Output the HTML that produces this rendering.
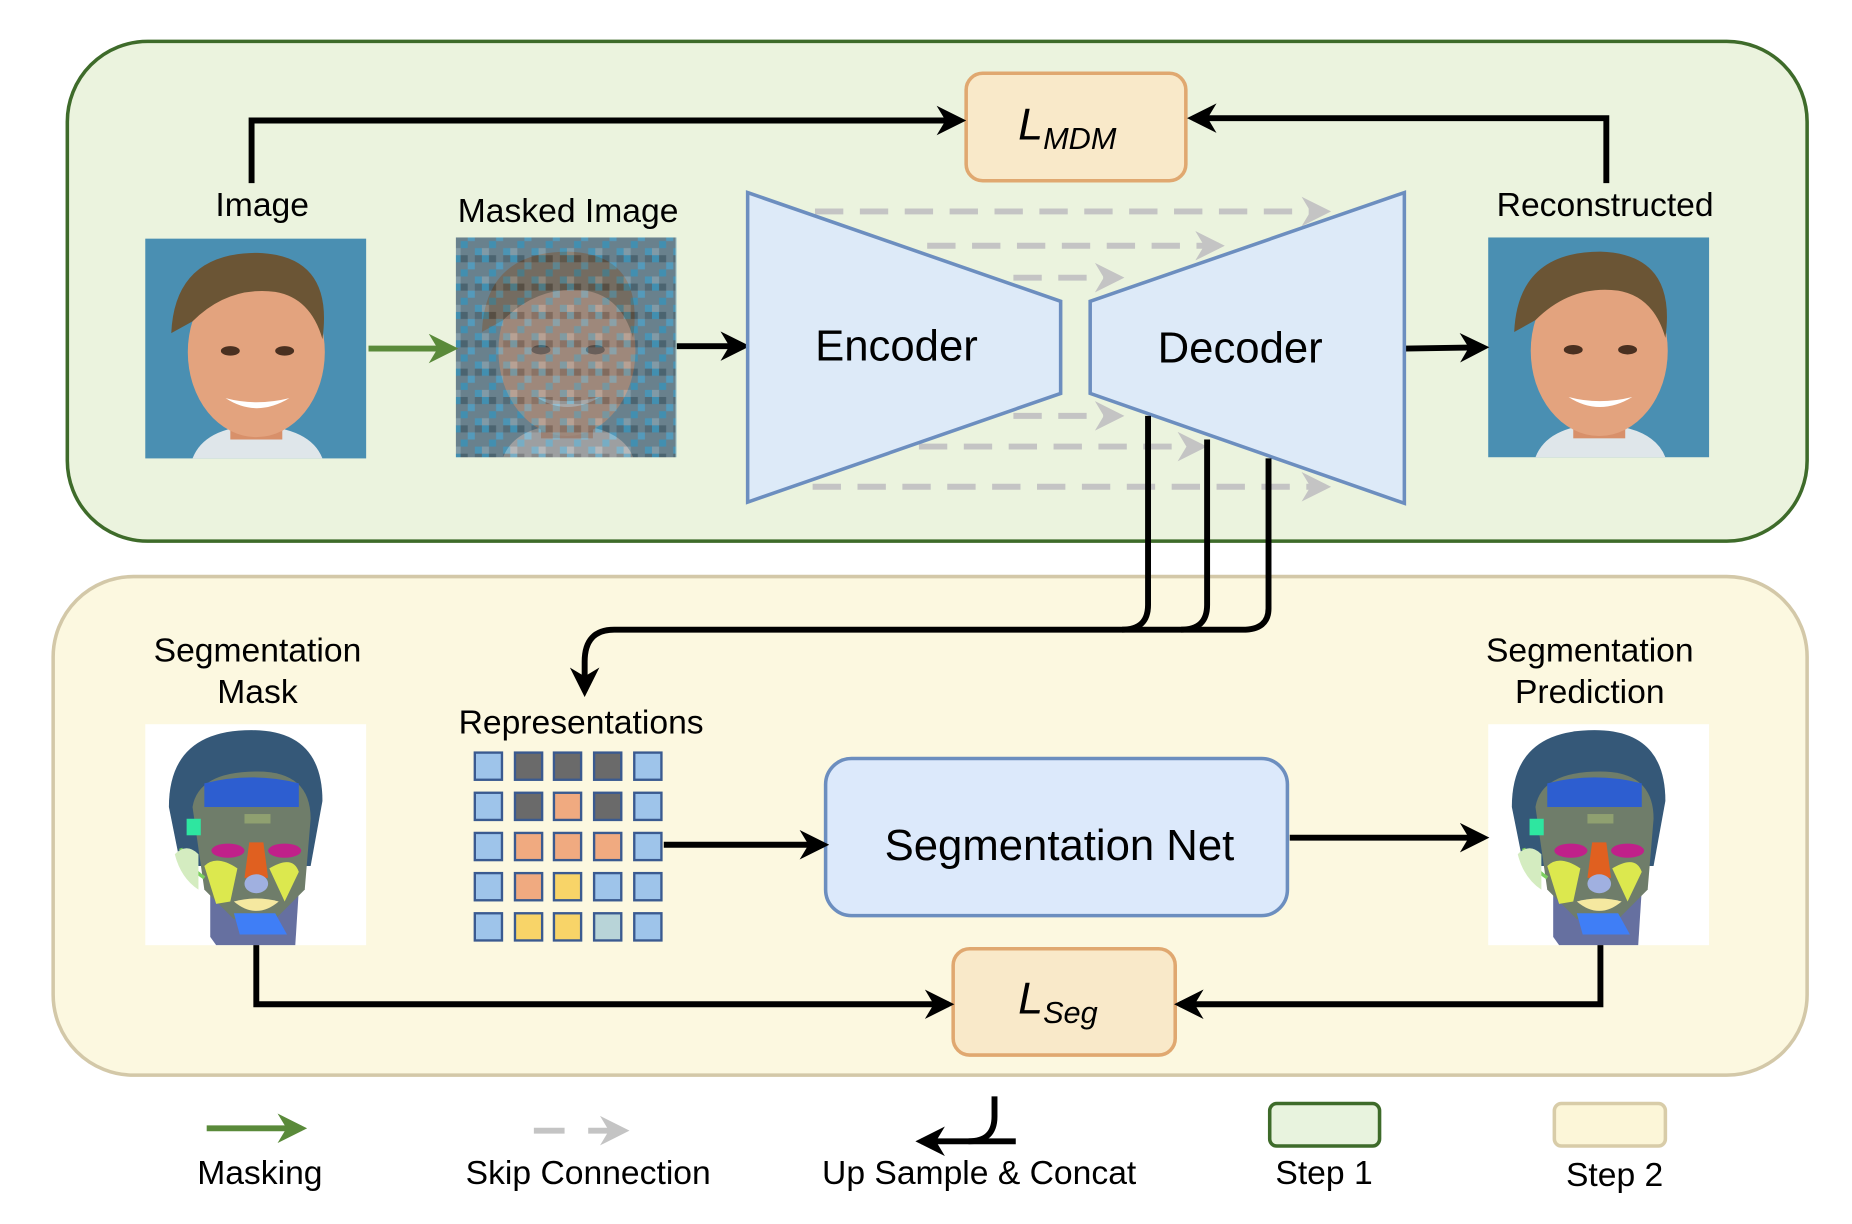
<!DOCTYPE html>
<html><head><meta charset="utf-8"><style>
html,body{margin:0;padding:0;background:#fff;}
svg{display:block;}
text{font-family:"Liberation Sans",sans-serif;fill:#000;}
</style></head><body>
<svg width="1852" height="1224" viewBox="0 0 1568 1036" preserveAspectRatio="none" xmlns="http://www.w3.org/2000/svg">
<defs>
<marker id="ab" viewBox="0 0 10 10" refX="8" refY="5" markerWidth="5" markerHeight="5" orient="auto"><path d="M0,0 L10,5 L0,10 L3,5 z" fill="#000"/></marker>
<marker id="ag" viewBox="0 0 10 10" refX="8" refY="5" markerWidth="5" markerHeight="5" orient="auto"><path d="M0,0 L10,5 L0,10 L3,5 z" fill="#5a8a3a"/></marker>
<marker id="agr" viewBox="0 0 10 10" refX="8" refY="5" markerWidth="5" markerHeight="5" orient="auto"><path d="M0,0 L10,5 L0,10 L3,5 z" fill="#c4c4c4"/></marker>
<pattern id="mos" width="24" height="24" patternUnits="userSpaceOnUse">
<rect width="24" height="24" fill="#7a7a7a"/>
<rect x="0" y="0" width="6" height="6" fill="#3f8fb0"/><rect x="12" y="6" width="6" height="6" fill="#5aa0c0"/>
<rect x="6" y="12" width="6" height="6" fill="#3f8fb0"/><rect x="18" y="18" width="6" height="6" fill="#4d97b6"/>
<rect x="18" y="0" width="6" height="6" fill="#5a5a5a"/><rect x="0" y="18" width="6" height="6" fill="#a0a0a0"/>
<rect x="6" y="0" width="6" height="6" fill="#4d4d4d"/>
</pattern>
<g id="photo">
<rect width="187" height="186" fill="#4a8fb2"/>
<path d="M40,186 Q50,160 93,158 Q140,160 150,186 Z" fill="#dfe6ea"/>
<rect x="72" y="130" width="44" height="40" fill="#d8906a"/>
<ellipse cx="94" cy="96" rx="58" ry="72" fill="#e3a37e"/>
<path d="M22,80 Q25,12 95,12 Q160,14 150,85 Q140,50 110,45 Q70,40 40,70 Z" fill="#6b5535"/>
<ellipse cx="72" cy="95" rx="8" ry="4" fill="#4a3020"/><ellipse cx="118" cy="95" rx="8" ry="4" fill="#4a3020"/>
<path d="M68,135 Q94,152 122,135 Q94,142 68,135 Z" fill="#fff"/>
</g>
<g id="seg">
<rect width="187" height="187" fill="#fff"/>
<path d="M55,180 L55,140 L130,140 L127,187 L60,187 Z" fill="#6670a0"/>
<path d="M20,70 Q20,5 90,5 Q150,5 150,65 L140,120 L30,120 Z" fill="#355878"/>
<path d="M40,70 Q45,40 95,40 Q140,40 140,80 L135,140 L110,165 L75,165 L50,140 Z" fill="#6f7d6a"/>
<path d="M50,50 Q90,40 130,50 L130,70 L50,70 Z" fill="#2d5ed0"/>
<path d="M30,105 Q35,120 50,130" stroke="#7cd060" stroke-width="3" fill="none"/>
<path d="M25,110 Q35,100 45,110 L45,140 Q30,130 25,110 Z" fill="#d4ecc0"/>
<path d="M75,160 L110,160 L120,178 L80,178 Z" fill="#3f7ef6"/>
<path d="M50,120 Q60,110 78,122 L72,150 L60,152 Z" fill="#dce84e"/>
<path d="M105,122 Q125,110 130,125 L118,150 Z" fill="#dce84e"/>
<rect x="35" y="80" width="12" height="14" fill="#2ee6a0"/>
<path d="M88,100 L100,100 L104,130 L84,130 Z" fill="#e06020"/>
<ellipse cx="70" cy="107" rx="14" ry="6" fill="#c0208a"/><ellipse cx="118" cy="107" rx="14" ry="6" fill="#c0208a"/>
<ellipse cx="94" cy="135" rx="10" ry="8" fill="#a0b0e0"/>
<path d="M75,150 Q94,145 113,150 Q94,166 75,150 Z" fill="#f5e8a0"/>
<rect x="84" y="76" width="22" height="8" fill="#8fa070"/>
</g>
</defs>

<rect x="57" y="35" width="1473" height="423" rx="68" fill="#ebf3de" stroke="#3e6b2a" stroke-width="3"/>
<rect x="45" y="488" width="1485" height="422" rx="68" fill="#fcf8e0" stroke="#d3c8a8" stroke-width="3"/>

<rect x="818" y="62" width="186" height="91" rx="14" fill="#f9e9c9" stroke="#e0a870" stroke-width="3"/>
<text x="862" y="118" font-family="Liberation Serif,serif" font-style="italic" font-size="38">L<tspan font-size="26" dy="8">MDM</tspan></text>

<polyline points="213,155 213,102 813,102" fill="none" stroke="#000" stroke-width="5" marker-end="url(#ab)"/>
<polyline points="1360,155 1360,100 1010,100" fill="none" stroke="#000" stroke-width="5" marker-end="url(#ab)"/>

<use href="#photo" x="123" y="202"/>
<rect x="386" y="201" width="186" height="186" fill="url(#mos)"/>
<g opacity="0.35"><use href="#photo" x="386" y="201"/></g>
<use href="#photo" x="1260" y="201"/>

<g font-size="28.5">
<text x="222" y="183" text-anchor="middle">Image</text>
<text x="481" y="188" text-anchor="middle">Masked Image</text>
<text x="1359" y="183" text-anchor="middle">Reconstructed</text>
<text x="218" y="560" text-anchor="middle">Segmentation</text>
<text x="218" y="595" text-anchor="middle">Mask</text>
<text x="1346" y="560" text-anchor="middle">Segmentation</text>
<text x="1346" y="595" text-anchor="middle">Prediction</text>
<text x="492" y="621" text-anchor="middle">Representations</text>
<text x="220" y="1002" text-anchor="middle">Masking</text>
<text x="498" y="1002" text-anchor="middle">Skip Connection</text>
<text x="829" y="1002" text-anchor="middle">Up Sample &amp; Concat</text>
<text x="1121" y="1002" text-anchor="middle">Step 1</text>
<text x="1367" y="1004" text-anchor="middle">Step 2</text>
</g>

<line x1="312" y1="295" x2="383" y2="295" stroke="#5a8a3a" stroke-width="5" marker-end="url(#ag)"/>
<line x1="573" y1="293" x2="630" y2="293" stroke="#000" stroke-width="5" marker-end="url(#ab)"/>
<line x1="1190" y1="295" x2="1256" y2="294" stroke="#000" stroke-width="5" marker-end="url(#ab)"/>

<g stroke="#c4c4c4" stroke-width="5" stroke-dasharray="24,14" fill="none">
<line x1="690" y1="179" x2="1122" y2="179" marker-end="url(#agr)"/>
<line x1="785" y1="208" x2="1032" y2="208" marker-end="url(#agr)"/>
<line x1="858" y1="235" x2="947" y2="235" marker-end="url(#agr)"/>
<line x1="858" y1="352" x2="947" y2="352" marker-end="url(#agr)"/>
<line x1="778" y1="378" x2="1017" y2="378" marker-end="url(#agr)"/>
<line x1="688" y1="412" x2="1122" y2="412" marker-end="url(#agr)"/>
</g>

<polygon points="633,163 898,255 898,333 633,425" fill="#dce9fb" fill-opacity="0.9" stroke="#6c8ebf" stroke-width="3"/>
<polygon points="923,255 1189,163 1189,426 923,333" fill="#dce9fb" fill-opacity="0.9" stroke="#6c8ebf" stroke-width="3"/>
<text x="759" y="305" font-size="37" text-anchor="middle">Encoder</text>
<text x="1050" y="307" font-size="37" text-anchor="middle">Decoder</text>

<g fill="none" stroke="#000" stroke-width="5">
<path d="M972,352 L972,512 Q972,533 950,533"/>
<path d="M1022,372 L1022,512 Q1022,533 1000,533"/>
<path d="M1074,388 L1074,515 Q1074,533 1052,533 L520,533 Q495,533 495,560 L495,585" marker-end="url(#ab)"/>
</g>

<use href="#seg" x="123" y="613"/>
<use href="#seg" x="1260" y="613"/>

<g stroke="#3a5a90" stroke-width="2">
<rect x="402" y="637" width="23" height="23" fill="#9ec4ea"/><rect x="436" y="637" width="23" height="23" fill="#6a6a6a"/><rect x="469" y="637" width="23" height="23" fill="#6a6a6a"/><rect x="503" y="637" width="23" height="23" fill="#6a6a6a"/><rect x="537" y="637" width="23" height="23" fill="#9ec4ea"/>
<rect x="402" y="671" width="23" height="23" fill="#9ec4ea"/><rect x="436" y="671" width="23" height="23" fill="#6a6a6a"/><rect x="469" y="671" width="23" height="23" fill="#f0aa80"/><rect x="503" y="671" width="23" height="23" fill="#6a6a6a"/><rect x="537" y="671" width="23" height="23" fill="#9ec4ea"/>
<rect x="402" y="705" width="23" height="23" fill="#9ec4ea"/><rect x="436" y="705" width="23" height="23" fill="#f0aa80"/><rect x="469" y="705" width="23" height="23" fill="#f0aa80"/><rect x="503" y="705" width="23" height="23" fill="#f0aa80"/><rect x="537" y="705" width="23" height="23" fill="#9ec4ea"/>
<rect x="402" y="739" width="23" height="23" fill="#9ec4ea"/><rect x="436" y="739" width="23" height="23" fill="#f0aa80"/><rect x="469" y="739" width="23" height="23" fill="#f8d468"/><rect x="503" y="739" width="23" height="23" fill="#9ec4ea"/><rect x="537" y="739" width="23" height="23" fill="#9ec4ea"/>
<rect x="402" y="773" width="23" height="23" fill="#9ec4ea"/><rect x="436" y="773" width="23" height="23" fill="#f8d468"/><rect x="469" y="773" width="23" height="23" fill="#f8d468"/><rect x="503" y="773" width="23" height="23" fill="#b8d4d8"/><rect x="537" y="773" width="23" height="23" fill="#9ec4ea"/>
</g>

<rect x="699" y="642" width="391" height="133" rx="22" fill="#dce9fb" stroke="#6c8ebf" stroke-width="3"/>
<text x="897" y="728" font-size="37" text-anchor="middle">Segmentation Net</text>

<line x1="562" y1="715" x2="697" y2="715" stroke="#000" stroke-width="5" marker-end="url(#ab)"/>
<line x1="1092" y1="709" x2="1256" y2="709" stroke="#000" stroke-width="5" marker-end="url(#ab)"/>

<rect x="807" y="803" width="188" height="90" rx="14" fill="#f9e9c9" stroke="#e0a870" stroke-width="3"/>
<text x="862" y="858" font-family="Liberation Serif,serif" font-style="italic" font-size="38">L<tspan font-size="26" dy="8">Seg</tspan></text>

<polyline points="217,800 217,850 803,850" fill="none" stroke="#000" stroke-width="5" marker-end="url(#ab)"/>
<polyline points="1355,800 1355,850 999,850" fill="none" stroke="#000" stroke-width="5" marker-end="url(#ab)"/>

<line x1="175" y1="955" x2="255" y2="955" stroke="#5a8a3a" stroke-width="5" marker-end="url(#ag)"/>
<line x1="452" y1="957" x2="528" y2="957" stroke="#c4c4c4" stroke-width="5" stroke-dasharray="26,20" marker-end="url(#agr)"/>
<path d="M842,928 L842,945 Q842,966 820,966" fill="none" stroke="#000" stroke-width="5"/>
<line x1="860" y1="966" x2="780" y2="966" stroke="#000" stroke-width="5" marker-end="url(#ab)"/>
<rect x="1075" y="934" width="93" height="36" rx="6" fill="#e8f3de" stroke="#3e6b2a" stroke-width="3"/>
<rect x="1316" y="934" width="94" height="36" rx="6" fill="#fcf6d8" stroke="#d8cca8" stroke-width="3"/>
</svg>
</body></html>
